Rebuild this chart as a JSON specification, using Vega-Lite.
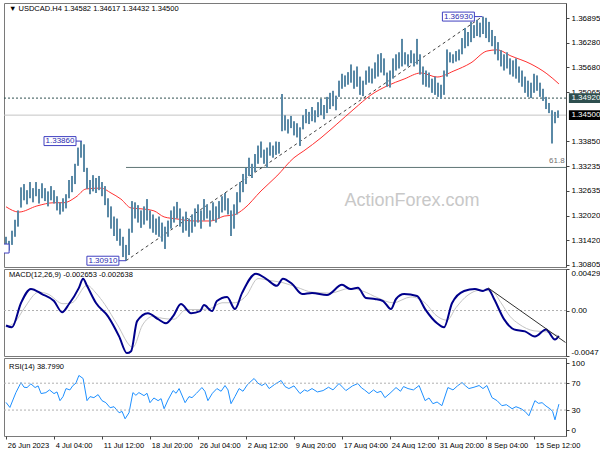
{
"$schema":"https://vega.github.io/schema/vega-lite/v6.json",
"padding":{"left":1,"top":2,"right":0,"bottom":0},
"spacing":2,
"bounds":"flush",
"background":"white",
"config":{"view":{"stroke":"#7a7a7a","strokeWidth":1},"font":"Liberation Sans",
"axis":{"labelFont":"Liberation Sans","labelFontSize":8,"labelColor":"#000","grid":false,"domainColor":"#444","tickColor":"#444","tickSize":3,"labelPadding":2,"labelOverlap":false}},
"datasets":{
"one":[{}],
"bars":[
{"i":0,"h":1.3150,"l":1.3125},{"i":1,"h":1.3140,"l":1.3116},{"i":2,"h":1.3165,"l":1.3130},{"i":3,"h":1.3192,"l":1.3150},{"i":4,"h":1.3215,"l":1.3175},
{"i":5,"h":1.3272,"l":1.3222},{"i":6,"h":1.3280,"l":1.3240},{"i":7,"h":1.3265,"l":1.3230},{"i":8,"h":1.3285,"l":1.3245},{"i":9,"h":1.3270,"l":1.3235},
{"i":10,"h":1.3285,"l":1.3250},{"i":11,"h":1.3268,"l":1.3232},{"i":12,"h":1.3282,"l":1.3245},{"i":13,"h":1.3270,"l":1.3238},{"i":14,"h":1.3262,"l":1.3225},
{"i":15,"h":1.3275,"l":1.3240},{"i":16,"h":1.3265,"l":1.3232},{"i":17,"h":1.3250,"l":1.3215},{"i":18,"h":1.3235,"l":1.3205},{"i":19,"h":1.3245,"l":1.3212},
{"i":20,"h":1.3255,"l":1.3220},{"i":21,"h":1.3290,"l":1.3245},{"i":22,"h":1.3300,"l":1.3260},{"i":23,"h":1.3330,"l":1.3280},{"i":24,"h":1.3370,"l":1.3325},
{"i":25,"h":1.3386,"l":1.3345},{"i":26,"h":1.3378,"l":1.3310},{"i":27,"h":1.3320,"l":1.3268},{"i":28,"h":1.3290,"l":1.3255},{"i":29,"h":1.3302,"l":1.3262},
{"i":30,"h":1.3295,"l":1.3258},{"i":31,"h":1.3300,"l":1.3265},{"i":32,"h":1.3285,"l":1.3250},{"i":33,"h":1.3275,"l":1.3228},{"i":34,"h":1.3245,"l":1.3198},
{"i":35,"h":1.3225,"l":1.3170},{"i":36,"h":1.3200,"l":1.3152},{"i":37,"h":1.3195,"l":1.3140},{"i":38,"h":1.3170,"l":1.3128},{"i":39,"h":1.3150,"l":1.3100},
{"i":40,"h":1.3130,"l":1.3091},{"i":41,"h":1.3170,"l":1.3105},{"i":42,"h":1.3238,"l":1.3160},{"i":43,"h":1.3235,"l":1.3195},{"i":44,"h":1.3228,"l":1.3185},
{"i":45,"h":1.3215,"l":1.3172},{"i":46,"h":1.3225,"l":1.3180},{"i":47,"h":1.3243,"l":1.3190},{"i":48,"h":1.3215,"l":1.3170},{"i":49,"h":1.3205,"l":1.3160},
{"i":50,"h":1.3195,"l":1.3155},{"i":51,"h":1.3200,"l":1.3150},{"i":52,"h":1.3185,"l":1.3138},{"i":53,"h":1.3175,"l":1.3120},{"i":54,"h":1.3190,"l":1.3150},
{"i":55,"h":1.3215,"l":1.3170},{"i":56,"h":1.3225,"l":1.3185},{"i":57,"h":1.3236,"l":1.3195},{"i":58,"h":1.3220,"l":1.3175},{"i":59,"h":1.3200,"l":1.3160},
{"i":60,"h":1.3212,"l":1.3165},{"i":61,"h":1.3195,"l":1.3150},{"i":62,"h":1.3205,"l":1.3160},{"i":63,"h":1.3220,"l":1.3175},{"i":64,"h":1.3230,"l":1.3185},
{"i":65,"h":1.3215,"l":1.3170},{"i":66,"h":1.3243,"l":1.3190},{"i":67,"h":1.3230,"l":1.3195},{"i":68,"h":1.3215,"l":1.3175},{"i":69,"h":1.3235,"l":1.3190},
{"i":70,"h":1.3225,"l":1.3185},{"i":71,"h":1.3238,"l":1.3195},{"i":72,"h":1.3250,"l":1.3210},{"i":73,"h":1.3258,"l":1.3215},{"i":74,"h":1.3245,"l":1.3205},
{"i":75,"h":1.3215,"l":1.3152},{"i":76,"h":1.3230,"l":1.3170},{"i":77,"h":1.3260,"l":1.3205},{"i":78,"h":1.3285,"l":1.3235},{"i":79,"h":1.3305,"l":1.3260},
{"i":80,"h":1.3320,"l":1.3280},{"i":81,"h":1.3345,"l":1.3300},{"i":82,"h":1.3330,"l":1.3295},{"i":83,"h":1.3354,"l":1.3310},{"i":84,"h":1.3375,"l":1.3330},
{"i":85,"h":1.3385,"l":1.3345},{"i":86,"h":1.3365,"l":1.3330},{"i":87,"h":1.3370,"l":1.3320},{"i":88,"h":1.3383,"l":1.3350},{"i":89,"h":1.3375,"l":1.3345},
{"i":90,"h":1.3385,"l":1.3352},{"i":91,"h":1.3384,"l":1.3355},{"i":92,"h":1.3502,"l":1.3410},{"i":93,"h":1.3450,"l":1.3412},{"i":94,"h":1.3440,"l":1.3405},
{"i":95,"h":1.3448,"l":1.3418},{"i":96,"h":1.3435,"l":1.3400},{"i":97,"h":1.3430,"l":1.3395},{"i":98,"h":1.3420,"l":1.3374},{"i":99,"h":1.3450,"l":1.3415},
{"i":100,"h":1.3465,"l":1.3430},{"i":101,"h":1.3458,"l":1.3428},{"i":102,"h":1.3470,"l":1.3435},{"i":103,"h":1.3462,"l":1.3432},{"i":104,"h":1.3482,"l":1.3445},
{"i":105,"h":1.3490,"l":1.3450},{"i":106,"h":1.3475,"l":1.3440},{"i":107,"h":1.3495,"l":1.3455},{"i":108,"h":1.3505,"l":1.3465},{"i":109,"h":1.3510,"l":1.3472},
{"i":110,"h":1.3498,"l":1.3462},{"i":111,"h":1.3535,"l":1.3495},{"i":112,"h":1.3552,"l":1.3515},{"i":113,"h":1.3548,"l":1.3520},{"i":114,"h":1.3556,"l":1.3525},
{"i":115,"h":1.3575,"l":1.3530},{"i":116,"h":1.3560,"l":1.3515},{"i":117,"h":1.3570,"l":1.3520},{"i":118,"h":1.3545,"l":1.3500},{"i":119,"h":1.3535,"l":1.3497},
{"i":120,"h":1.3560,"l":1.3525},{"i":121,"h":1.3570,"l":1.3530},{"i":122,"h":1.3565,"l":1.3528},{"i":123,"h":1.3580,"l":1.3540},{"i":124,"h":1.3600,"l":1.3545},
{"i":125,"h":1.3603,"l":1.3555},{"i":126,"h":1.3590,"l":1.3548},{"i":127,"h":1.3555,"l":1.3520},{"i":128,"h":1.3560,"l":1.3518},{"i":129,"h":1.3590,"l":1.3540},
{"i":130,"h":1.3600,"l":1.3560},{"i":131,"h":1.3605,"l":1.3565},{"i":132,"h":1.3638,"l":1.3570},{"i":133,"h":1.3605,"l":1.3575},{"i":134,"h":1.3600,"l":1.3570},
{"i":135,"h":1.3610,"l":1.3578},{"i":136,"h":1.3602,"l":1.3570},{"i":137,"h":1.3638,"l":1.3575},{"i":138,"h":1.3600,"l":1.3550},{"i":139,"h":1.3570,"l":1.3525},
{"i":140,"h":1.3560,"l":1.3520},{"i":141,"h":1.3555,"l":1.3518},{"i":142,"h":1.3540,"l":1.3505},{"i":143,"h":1.3545,"l":1.3500},{"i":144,"h":1.3530,"l":1.3495},
{"i":145,"h":1.3525,"l":1.3490},{"i":146,"h":1.3560,"l":1.3500},{"i":147,"h":1.3612,"l":1.3545},{"i":148,"h":1.3605,"l":1.3580},{"i":149,"h":1.3600,"l":1.3578},
{"i":150,"h":1.3608,"l":1.3582},{"i":151,"h":1.3612,"l":1.3585},{"i":152,"h":1.3640,"l":1.3600},{"i":153,"h":1.3665,"l":1.3615},{"i":154,"h":1.3655,"l":1.3620},
{"i":155,"h":1.3680,"l":1.3630},{"i":156,"h":1.3672,"l":1.3640},{"i":157,"h":1.3685,"l":1.3645},{"i":158,"h":1.3678,"l":1.3642},{"i":159,"h":1.3693,"l":1.3650},
{"i":160,"h":1.3690,"l":1.3640},{"i":161,"h":1.3680,"l":1.3630},{"i":162,"h":1.3660,"l":1.3620},{"i":163,"h":1.3645,"l":1.3600},{"i":164,"h":1.3630,"l":1.3585},
{"i":165,"h":1.3610,"l":1.3570},{"i":166,"h":1.3600,"l":1.3560},{"i":167,"h":1.3605,"l":1.3565},{"i":168,"h":1.3590,"l":1.3550},{"i":169,"h":1.3585,"l":1.3545},
{"i":170,"h":1.3590,"l":1.3540},{"i":171,"h":1.3570,"l":1.3530},{"i":172,"h":1.3560,"l":1.3520},{"i":173,"h":1.3545,"l":1.3505},{"i":174,"h":1.3535,"l":1.3495},
{"i":175,"h":1.3530,"l":1.3492},{"i":176,"h":1.3552,"l":1.3505},{"i":177,"h":1.3548,"l":1.3510},{"i":178,"h":1.3530,"l":1.3495},{"i":179,"h":1.3515,"l":1.3485},
{"i":180,"h":1.3495,"l":1.3465},{"i":181,"h":1.3480,"l":1.3455},{"i":182,"h":1.3462,"l":1.3380},{"i":183,"h":1.3458,"l":1.3430},{"i":184,"h":1.34617,"l":1.34432}
],
"ma":[
{"i":0,"m":1.3224},{"i":4.3,"m":1.3211},{"i":10.3,"m":1.3226},{"i":16,"m":1.3234},{"i":19.3,"m":1.3234},{"i":23.3,"m":1.3248},{"i":26.7,"m":1.3268},{"i":31.7,"m":1.3270},
{"i":35,"m":1.3258},{"i":38.3,"m":1.3243},{"i":41.7,"m":1.3221},{"i":45,"m":1.3219},{"i":49.3,"m":1.3214},{"i":52.7,"m":1.3199},{"i":57,"m":1.3194},{"i":62.7,"m":1.3189},
{"i":68.3,"m":1.3189},{"i":72.7,"m":1.3201},{"i":76,"m":1.3204},{"i":79.3,"m":1.3219},{"i":85,"m":1.3263},{"i":90.3,"m":1.3300},{"i":96,"m":1.3345},{"i":99.3,"m":1.3362},
{"i":105,"m":1.3394},{"i":110.3,"m":1.3428},{"i":116,"m":1.3465},{"i":121.7,"m":1.3500},{"i":127,"m":1.3522},{"i":132.7,"m":1.3539},{"i":138.3,"m":1.3554},{"i":143.7,"m":1.3544},
{"i":149.3,"m":1.3559},{"i":155,"m":1.3579},{"i":160.3,"m":1.3608},{"i":163.7,"m":1.3611},{"i":168.3,"m":1.3596},{"i":175,"m":1.3576},{"i":180.3,"m":1.3552},{"i":184.3,"m":1.3527}
],
"macd":[
{"i":0,"d":-0.00155},{"i":2,"d":-0.00174},{"i":5,"d":0.00078},{"i":8.3,"d":0.00223},{"i":12,"d":0.0017},{"i":16,"d":0.00098},{"i":18.7,"d":-0.00017},{"i":21,"d":0.00067},
{"i":24.3,"d":0.00234},{"i":25.7,"d":0.00328},{"i":27,"d":0.00255},{"i":30,"d":0.00077},{"i":34,"d":-0.0006},{"i":37.7,"d":-0.00267},{"i":40.3,"d":-0.0044},{"i":41.7,"d":-0.0042},
{"i":43.7,"d":-0.0011},{"i":47.3,"d":-0.00027},{"i":50.7,"d":-0.0009},{"i":53.3,"d":-0.00132},{"i":55.7,"d":-0.00059},{"i":58.3,"d":0.00067},{"i":61.7,"d":-0.00027},{"i":64.7,"d":-0.00006},
{"i":66,"d":0.00056},{"i":68.7,"d":-0.00006},{"i":70.3,"d":0.00098},{"i":73.7,"d":0.0014},{"i":76.3,"d":0.00015},{"i":78.7,"d":0.00182},{"i":83.3,"d":0.0038},{"i":86.7,"d":0.00328},
{"i":90.3,"d":0.00255},{"i":92.3,"d":0.00328},{"i":95.3,"d":0.00276},{"i":98.7,"d":0.00171},{"i":102,"d":0.00182},{"i":107,"d":0.0016},{"i":112,"d":0.00265},{"i":114.7,"d":0.00223},
{"i":117.3,"d":0.00234},{"i":120,"d":0.0013},{"i":123,"d":0.00119},{"i":125.7,"d":0.00098},{"i":128.3,"d":0.00015},{"i":130,"d":0.00119},{"i":132.7,"d":0.00171},{"i":137,"d":0.0015},
{"i":139.7,"d":0.00015},{"i":143.7,"d":-0.00132},{"i":146,"d":-0.00174},{"i":148.7,"d":0.00077},{"i":152.7,"d":0.00202},{"i":156.3,"d":0.00223},{"i":159,"d":0.00202},{"i":160.7,"d":0.00223},
{"i":162.7,"d":0.00119},{"i":166,"d":-0.00089},{"i":169.3,"d":-0.00195},{"i":173,"d":-0.00216},{"i":176.3,"d":-0.00268},{"i":180,"d":-0.00195},{"i":183,"d":-0.00299},{"i":184.3,"d":-0.00265}
],
"signal":[
{"i":0,"s":-0.0017},{"i":3,"s":-0.0012},{"i":6,"s":0.0002},{"i":10.9,"s":0.0019},{"i":14,"s":0.0017},{"i":19,"s":0.0007},{"i":22,"s":0.0008},{"i":27,"s":0.0026},
{"i":30,"s":0.0018},{"i":33,"s":0.0006},{"i":37,"s":-0.0014},{"i":42.3,"s":-0.0038},{"i":45.5,"s":-0.0015},{"i":49,"s":-0.0006},{"i":52,"s":-0.0008},{"i":56,"s":-0.0009},
{"i":60,"s":0.0001},{"i":64,"s":0.0001},{"i":68,"s":0.0002},{"i":72,"s":0.0008},{"i":76,"s":0.0008},{"i":80,"s":0.0015},{"i":84,"s":0.0033},{"i":88,"s":0.0031},
{"i":92,"s":0.0029},{"i":97,"s":0.0024},{"i":102,"s":0.0019},{"i":108,"s":0.0018},{"i":114.7,"s":0.0023},{"i":119,"s":0.0020},{"i":124,"s":0.0013},{"i":129,"s":0.0008},
{"i":135,"s":0.0014},{"i":140,"s":0.0007},{"i":143,"s":-0.0004},{"i":147,"s":-0.0010},{"i":150,"s":0.0003},{"i":154,"s":0.0016},{"i":158,"s":0.0021},{"i":162,"s":0.0020},
{"i":165,"s":0.0008},{"i":168,"s":-0.0006},{"i":171,"s":-0.0014},{"i":176,"s":-0.0021},{"i":180,"s":-0.0022},{"i":184.3,"s":-0.00264}
],
"rsi":[
{"i":0,"r":41.4},{"i":1.3,"r":33.9},{"i":2.3,"r":45},{"i":3.3,"r":56},{"i":5,"r":71},{"i":6,"r":64},{"i":7,"r":63.5},{"i":8.3,"r":69},{"i":9.7,"r":63.5},{"i":10.7,"r":66},
{"i":11.7,"r":54.5},{"i":13.3,"r":56},{"i":14.5,"r":60},{"i":16,"r":54.5},{"i":17,"r":57},{"i":18,"r":44},{"i":19,"r":50},{"i":20,"r":62},{"i":21.3,"r":60},{"i":22.3,"r":66.5},
{"i":23.3,"r":70},{"i":24.3,"r":81.5},{"i":25.7,"r":77},{"i":27,"r":44},{"i":28,"r":50},{"i":29.3,"r":48.5},{"i":30.7,"r":53},{"i":32,"r":44},{"i":33.3,"r":41},{"i":34.7,"r":33.5},
{"i":36,"r":35},{"i":37.7,"r":26},{"i":38.7,"r":28},{"i":39.7,"r":17},{"i":41,"r":26},{"i":42.3,"r":56},{"i":43.3,"r":52},{"i":44.3,"r":56},{"i":46,"r":51.5},{"i":47,"r":55},
{"i":48,"r":41},{"i":49.3,"r":48},{"i":50.7,"r":44},{"i":51.7,"r":47},{"i":52.7,"r":32},{"i":54,"r":45},{"i":55.7,"r":59},{"i":56.7,"r":55},{"i":57.7,"r":62},{"i":59.7,"r":41},
{"i":61,"r":50},{"i":62,"r":48.5},{"i":63.5,"r":55},{"i":65.3,"r":63.5},{"i":66.3,"r":58},{"i":67.3,"r":44},{"i":68.8,"r":55},{"i":70.3,"r":62},{"i":71.7,"r":58},{"i":73,"r":66.5},
{"i":74,"r":60},{"i":75,"r":39.5},{"i":76.3,"r":50},{"i":77.7,"r":62},{"i":79,"r":58},{"i":80.5,"r":68},{"i":82.7,"r":77},{"i":84,"r":70},{"i":85.3,"r":66.5},{"i":86.5,"r":70},
{"i":87.7,"r":62},{"i":89.5,"r":68},{"i":91.7,"r":74},{"i":93,"r":65},{"i":94.3,"r":62},{"i":96,"r":66},{"i":98,"r":54.5},{"i":99.5,"r":60},{"i":100.5,"r":58},{"i":102,"r":62},
{"i":103.8,"r":57},{"i":105.7,"r":59},{"i":107.5,"r":64},{"i":109,"r":60},{"i":111,"r":69.5},{"i":112.2,"r":64},{"i":113.3,"r":59},{"i":115.5,"r":66},{"i":117.3,"r":69.5},{"i":118.5,"r":63},
{"i":119.5,"r":60},{"i":121,"r":54.5},{"i":122.5,"r":60},{"i":123.7,"r":56},{"i":125,"r":58},{"i":126.3,"r":48.5},{"i":128,"r":55},{"i":130,"r":63.5},{"i":131.5,"r":58},{"i":132.5,"r":65},
{"i":134,"r":62},{"i":135.8,"r":60},{"i":137.7,"r":66.5},{"i":139.7,"r":44},{"i":141,"r":48},{"i":142.3,"r":39.5},{"i":143.7,"r":42},{"i":145.3,"r":36.5},{"i":147.3,"r":63.5},{"i":149,"r":60},
{"i":150.5,"r":66},{"i":152,"r":71},{"i":153.2,"r":66},{"i":154.3,"r":62},{"i":156,"r":64},{"i":157.7,"r":66.5},{"i":159,"r":62},{"i":160.3,"r":66.5},{"i":162,"r":48.5},{"i":163.7,"r":44},
{"i":165.3,"r":36.5},{"i":166.8,"r":38},{"i":168.7,"r":32},{"i":170,"r":35},{"i":171.7,"r":32},{"i":173,"r":28},{"i":174.3,"r":21.5},{"i":176.3,"r":44},{"i":177.5,"r":40},{"i":178.7,"r":41},
{"i":180,"r":36},{"i":181.3,"r":32},{"i":182.2,"r":28},{"i":183,"r":15.5},{"i":184,"r":33.5},{"i":184.3,"r":38.8}
],
"tags":[
{"lab":"1.33860","ti":18,"bi":25.3,"p":1.3386},
{"lab":"1.30910","ti":32.3,"bi":40,"p":1.3091},
{"lab":"1.36930","ti":150.8,"bi":158.8,"p":1.3693},
{"lab":"1.31180","ti":-4.3,"bi":0,"p":1.3121}
],
"ptags":[{"lab":"1.34920","p":1.3492},{"lab":"1.34500","p":1.3450}]
},
"vconcat":[
{
"width":562,"height":264,
"layer":[
{"data":{"name":"bars"},"mark":{"type":"rule","color":"#5a89a6","strokeWidth":2,"opacity":0},
 "encoding":{"x":{"field":"i","type":"quantitative","scale":{"domain":[-0.667,186.667],"nice":false,"zero":false},"axis":null},
  "y":{"field":"l","type":"quantitative","scale":{"domain":[1.30755,1.37265],"nice":false,"zero":false},
   "axis":{"orient":"right","title":null,"values":[1.36895,1.3628,1.3568,1.35065,1.3385,1.33235,1.32635,1.3202,1.3142,1.30805],"tickCount":30,"format":".5f","labelOverlap":false,"labelBound":false}},
  "y2":{"field":"h"}}},
{"data":{"name":"one"},"mark":{"type":"text","text":"ActionForex.com","fontSize":18,"color":"#c8c8c8","align":"center","baseline":"middle"},
 "encoding":{"x":{"datum":135.3,"type":"quantitative"},"y":{"datum":1.3238,"type":"quantitative"}}},
{"data":{"name":"one"},"mark":{"type":"rule","color":"#c4c4c4","strokeWidth":1},"encoding":{"y":{"datum":1.3450,"type":"quantitative"}}},
{"data":{"name":"one"},"mark":{"type":"rule","color":"#2f4f4f","strokeWidth":1,"strokeDash":[2,2]},"encoding":{"y":{"datum":1.3492,"type":"quantitative"}}},
{"data":{"name":"one"},"mark":{"type":"rule","color":"#5f7575","strokeWidth":1},
 "encoding":{"x":{"datum":40,"type":"quantitative"},"x2":{"datum":186.667},"y":{"datum":1.3321,"type":"quantitative"}}},
{"data":{"name":"one"},"mark":{"type":"text","text":"61.8","fontSize":8,"color":"#707070","align":"right","baseline":"bottom","dy":-2},
 "encoding":{"x":{"datum":186.2,"type":"quantitative"},"y":{"datum":1.3321,"type":"quantitative"}}},
{"data":{"name":"one"},"mark":{"type":"rule","color":"#404040","strokeWidth":1,"strokeDash":[3,3]},
 "encoding":{"x":{"datum":40,"type":"quantitative"},"x2":{"datum":158.8},"y":{"datum":1.3091,"type":"quantitative"},"y2":{"datum":1.3693}}},
{"data":{"name":"ma"},"mark":{"type":"line","color":"#ff3030","strokeWidth":1,"interpolate":"monotone"},
 "encoding":{"x":{"field":"i","type":"quantitative"},"y":{"field":"m","type":"quantitative"}}},
{"data":{"name":"bars"},"mark":{"type":"rule","color":"#5a89a6","strokeWidth":2},
 "encoding":{"x":{"field":"i","type":"quantitative"},"y":{"field":"l","type":"quantitative"},"y2":{"field":"h"}}},
{"data":{"name":"tags"},"mark":{"type":"rule","color":"#4040c0","strokeWidth":1,"clip":true},
 "encoding":{"x":{"field":"ti","type":"quantitative"},"x2":{"field":"bi"},"y":{"field":"p","type":"quantitative"}}},
{"data":{"name":"tags"},"mark":{"type":"point","shape":"M-1,-0.28H1V0.28H-1Z","size":1024,"filled":true,"fill":"white","stroke":"#4040c0","strokeWidth":1,"opacity":1,"clip":true},
 "encoding":{"x":{"field":"ti","type":"quantitative"},"y":{"field":"p","type":"quantitative"}}},
{"data":{"name":"tags"},"transform":[{"filter":"datum.ti > 0"}],"mark":{"type":"text","fontSize":8,"color":"#2a2ab0","align":"center","baseline":"middle"},
 "encoding":{"x":{"field":"ti","type":"quantitative"},"y":{"field":"p","type":"quantitative"},"text":{"field":"lab"}}},
{"data":{"name":"ptags"},"mark":{"type":"point","shape":"M-1,-0.29H1V0.29H-1Z","size":1156,"filled":true,"opacity":1,"strokeWidth":0},
 "encoding":{"x":{"datum":193.3,"type":"quantitative"},"y":{"field":"p","type":"quantitative"},
  "color":{"field":"lab","type":"nominal","scale":{"domain":["1.34920","1.34500"],"range":["#2f4f4f","#000000"]},"legend":null}}},
{"data":{"name":"ptags"},"mark":{"type":"text","fontSize":8,"color":"white","align":"center","baseline":"middle"},
 "encoding":{"x":{"datum":193.3,"type":"quantitative"},"y":{"field":"p","type":"quantitative"},"text":{"field":"lab"}}},
{"data":{"name":"one"},"mark":{"type":"text","text":"▼ USDCAD.H4  1.34582 1.34617 1.34432 1.34500","fontSize":7.5,"color":"#000","align":"left","baseline":"middle"},
 "encoding":{"x":{"datum":1,"type":"quantitative"},"y":{"datum":1.37117,"type":"quantitative"}}}
]
},
{
"width":562,"height":87,
"layer":[
{"data":{"name":"macd"},"mark":{"type":"line","color":"#00008b","strokeWidth":2,"interpolate":"monotone","opacity":0},
 "encoding":{"x":{"field":"i","type":"quantitative","scale":{"domain":[-0.667,186.667],"nice":false,"zero":false},"axis":null},
  "y":{"field":"d","type":"quantitative","scale":{"domain":[-0.0047,0.00429],"nice":false,"zero":false},
   "axis":{"orient":"right","title":null,"values":[0.00429,0,-0.0047],"tickCount":30,"labelFlush":true,"labelOverlap":false,"labelBound":false,"labelExpr":"datum.value == 0 ? '0.00' : (datum.value > 0 ? '0.00429' : '-0.0047')"}}}},
{"data":{"name":"one"},"mark":{"type":"rule","color":"#b0b0b0","strokeWidth":1,"strokeDash":[2,2]},"encoding":{"y":{"datum":0,"type":"quantitative"}}},
{"data":{"name":"signal"},"mark":{"type":"line","color":"#c4c4c4","strokeWidth":1,"interpolate":"monotone"},
 "encoding":{"x":{"field":"i","type":"quantitative"},"y":{"field":"s","type":"quantitative"}}},
{"data":{"name":"macd"},"mark":{"type":"line","color":"#00008b","strokeWidth":2,"interpolate":"monotone"},
 "encoding":{"x":{"field":"i","type":"quantitative"},"y":{"field":"d","type":"quantitative"}}},
{"data":{"name":"one"},"mark":{"type":"rule","color":"#303030","strokeWidth":1},
 "encoding":{"x":{"datum":160.7,"type":"quantitative"},"x2":{"datum":186.5},"y":{"datum":0.00234,"type":"quantitative"},"y2":{"datum":-0.0033}}},
{"data":{"name":"one"},"mark":{"type":"text","text":"MACD(12,26,9) -0.002653 -0.002638","fontSize":7.5,"color":"#000","align":"left","baseline":"middle"},
 "encoding":{"x":{"datum":1,"type":"quantitative"},"y":{"datum":0.00367,"type":"quantitative"}}}
]
},
{
"width":562,"height":78,
"layer":[
{"data":{"name":"rsi"},"mark":{"type":"line","color":"#1e90ff","strokeWidth":1},
 "encoding":{"x":{"field":"i","type":"quantitative","scale":{"domain":[-0.667,186.667],"nice":false,"zero":false},
   "axis":{"orient":"bottom","title":null,"values":[0.1,16.1,32.1,48.1,64.1,80.1,96.1,112.1,128.1,144.1,160.1,176.1],"tickCount":30,"labelAlign":"left","labelFlush":false,"labelOverlap":false,"labelBound":false,"domain":false,"labelFontSize":7.5,"labelOffset":1,
    "labelExpr":"['26 Jun 2023','4 Jul 04:00','11 Jul 12:00','18 Jul 20:00','26 Jul 04:00','2 Aug 12:00','9 Aug 20:00','17 Aug 04:00','24 Aug 12:00','31 Aug 20:00','8 Sep 04:00','15 Sep 12:00'][round((datum.value-0.1)/16)]"}},
  "y":{"field":"r","type":"quantitative","scale":{"domain":[-8.6,107.5],"nice":false,"zero":false},
   "axis":{"orient":"right","title":null,"values":[100,70,30,0],"tickCount":30,"labelOverlap":false,"labelBound":false}}}},
{"data":{"name":"one"},"mark":{"type":"rule","color":"#b0b0b0","strokeWidth":1,"strokeDash":[2,2]},"encoding":{"y":{"datum":70,"type":"quantitative"}}},
{"data":{"name":"one"},"mark":{"type":"rule","color":"#b0b0b0","strokeWidth":1,"strokeDash":[2,2]},"encoding":{"y":{"datum":30,"type":"quantitative"}}},
{"data":{"name":"one"},"mark":{"type":"text","text":"RSI(14) 38.7990","fontSize":7.5,"color":"#000","align":"left","baseline":"middle"},
 "encoding":{"x":{"datum":1,"type":"quantitative"},"y":{"datum":94.1,"type":"quantitative"}}}
]
}
]
}
